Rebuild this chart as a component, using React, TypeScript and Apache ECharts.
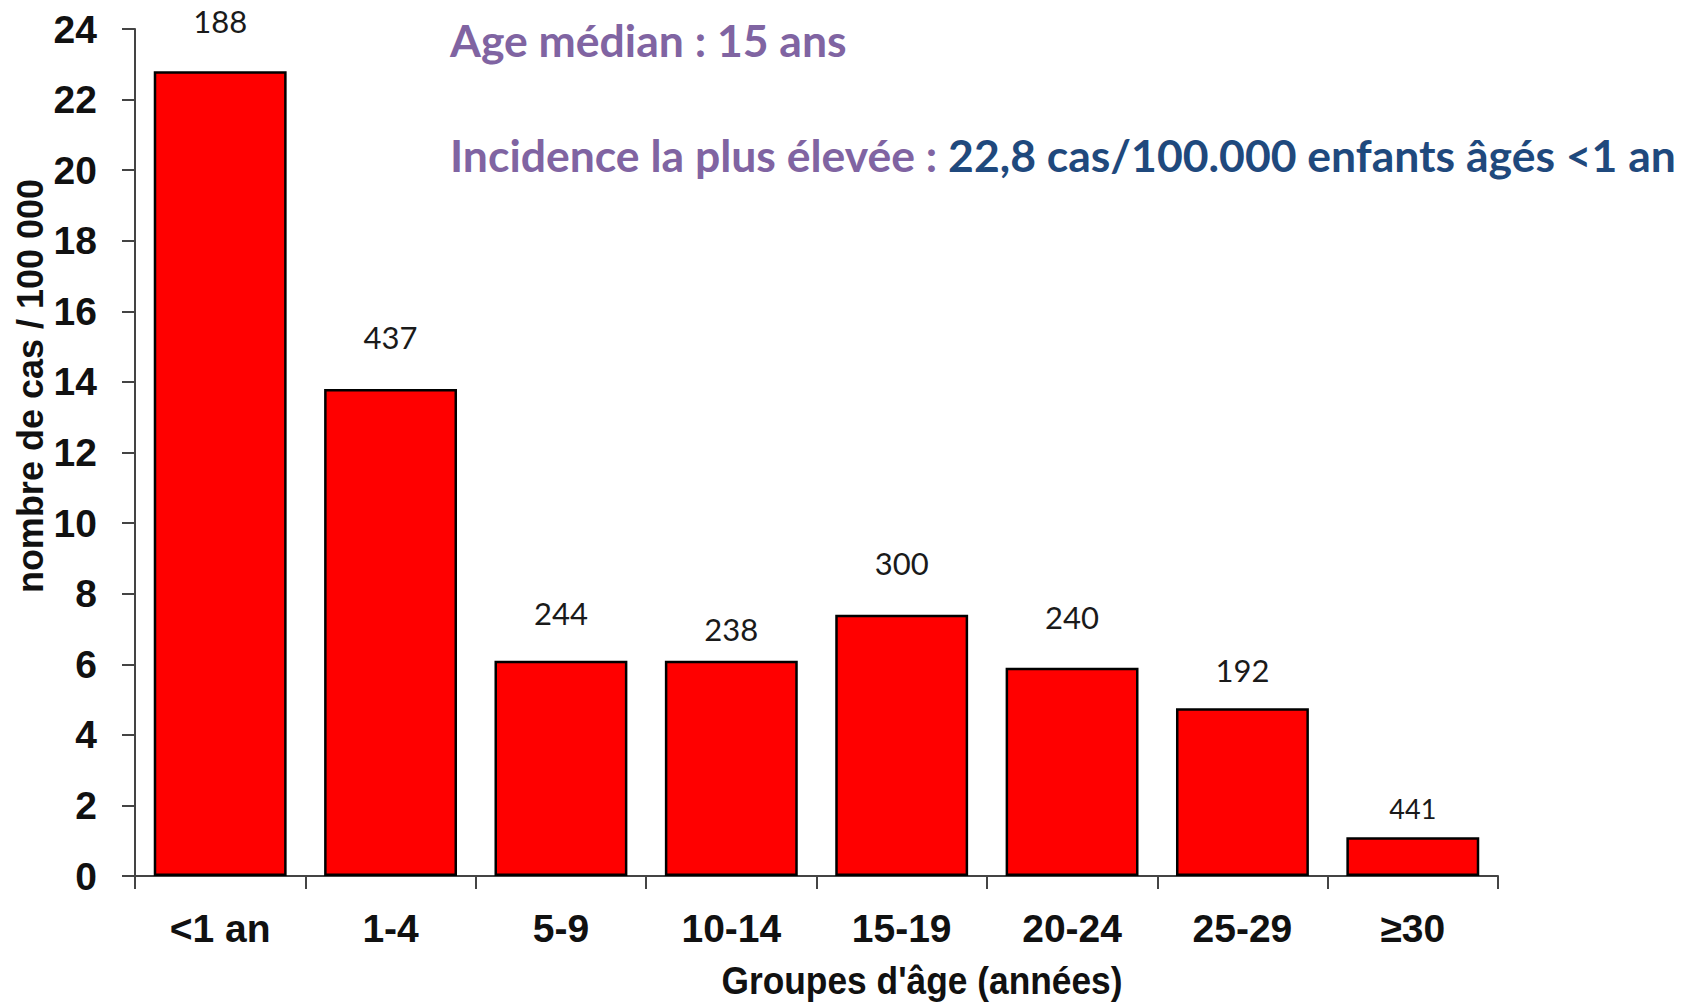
import React, { useEffect, useRef } from "react";
import * as echarts from "echarts";

const categories = ["<1 an", "1-4", "5-9", "10-14", "15-19", "20-24", "25-29", "≥30"];
const incidence = [22.8, 13.8, 6.1, 6.1, 7.4, 5.9, 4.75, 1.1];
const cases = [188, 437, 244, 238, 300, 240, 192, 441];
const yTicks = { min: 0, max: 24, interval: 2 };
const labelDistance = [35, 36, 32, 16, 36, 35, 23, 15];
const labelFontSize = [31, 31, 31, 31, 31, 31, 31, 27];

const NARROW = "'Liberation Sans Narrow', 'Arial Narrow', 'Liberation Sans', Arial, sans-serif";
const CAL = "Lato, 'Open Sans', sans-serif";

export default function App() {
  const ref = useRef<HTMLDivElement>(null);
  useEffect(() => {
    if (!ref.current) return;
    const chart = echarts.init(ref.current, undefined, { renderer: "svg" });
    chart.setOption({
      animation: false,
      backgroundColor: "#ffffff",
      grid: { left: 135, right: 192, top: 29, bottom: 126, containLabel: false },
      xAxis: {
        type: "category",
        data: categories,
        axisLine: { lineStyle: { color: "#444444", width: 2 } },
        axisTick: { show: true, length: 13, lineStyle: { color: "#444444", width: 2 } },
        axisLabel: {
          color: "#111111",
          fontFamily: NARROW,
          fontWeight: "bold",
          fontSize: 39,
          margin: 33,
        },
      },
      yAxis: {
        type: "value",
        min: yTicks.min,
        max: yTicks.max,
        interval: yTicks.interval,
        splitLine: { show: false },
        axisLine: { show: true, lineStyle: { color: "#444444", width: 2 } },
        axisTick: { show: true, length: 13, lineStyle: { color: "#444444", width: 2 } },
        axisLabel: {
          color: "#111111",
          fontFamily: NARROW,
          fontWeight: "bold",
          fontSize: 39,
          margin: 38,
        },
      },
      series: [
        {
          type: "bar",
          barCategoryGap: "22%",
          data: incidence.map((v, i) => ({
            value: v,
            label: { distance: labelDistance[i], fontSize: labelFontSize[i] },
          })),
          itemStyle: { color: "#ff0000", borderColor: "#000000", borderWidth: 2.5 },
          label: {
            show: true,
            position: "top",
            color: "#1a1a1a",
            fontFamily: CAL,
            fontSize: 31,
            formatter: (p: any) => String(cases[p.dataIndex]),
          },
        },
      ],
      graphic: [
        {
          type: "text",
          left: 450,
          top: 17,
          style: {
            text: "Age médian : 15 ans",
            fill: "#8064a2",
            font: `bold 44.5px ${CAL}`,
          },
        },
        {
          type: "text",
          left: 450,
          top: 132,
          style: {
            rich: {
              p: { fill: "#8064a2", font: `bold 44.5px ${CAL}` },
              b: { fill: "#1f497d", font: `bold 44.5px ${CAL}` },
            },
            text: "{p|Incidence la plus élevée : }{b|22,8 cas/100.000 enfants âgés <1 an}",
          },
        },
        {
          type: "text",
          x: 922,
          y: 981,
          scaleX: 0.93,
          style: {
            text: "Groupes d'âge (années)",
            fill: "#111111",
            font: `bold 38px ${NARROW}`,
            align: "center",
            verticalAlign: "middle",
          },
        },
        {
          type: "text",
          x: 30,
          y: 386,
          rotation: Math.PI / 2,
          style: {
            text: "nombre de cas / 100 000",
            fill: "#111111",
            font: `bold 36px ${NARROW}`,
            align: "center",
            verticalAlign: "middle",
          },
        },
      ],
    });
    return () => chart.dispose();
  }, []);
  return (
    <div
      ref={ref}
      style={{ position: "fixed", left: 0, top: 0, width: 1690, height: 1002 }}
    />
  );
}
